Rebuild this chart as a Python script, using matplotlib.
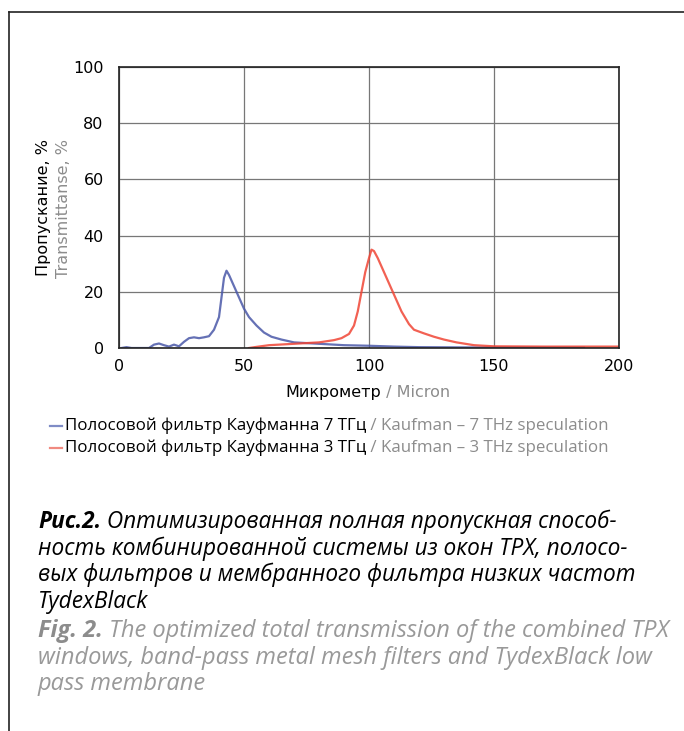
import matplotlib
matplotlib.use('Agg')
import matplotlib.pyplot as plt
from matplotlib.lines import Line2D

# --- data ---
blue_x = [1, 3, 5, 12, 14, 16, 18, 20, 22, 24, 26, 28, 30, 32, 34, 36, 38, 40, 41, 42, 43,
          44, 46, 48, 50, 52, 55, 58, 61, 65, 70, 80, 90, 100, 110, 120, 140, 160, 186]
blue_y = [0, 0.3, 0, 0, 1.2, 1.6, 1.0, 0.5, 1.2, 0.6, 2.2, 3.5, 3.8, 3.5, 3.8, 4.2, 6.5, 11, 18, 25, 27.5,
          26, 22, 18, 14, 11, 8, 5.5, 4, 3, 2, 1.5, 1.0, 0.8, 0.5, 0.3, 0.2, 0.2, 0.1]
red_x = [52, 55, 60, 70, 80, 86, 89, 92, 94, 95.5, 97, 98.5, 100, 101, 102, 103.5, 105, 107, 110,
         113, 116, 118, 122, 126, 130, 135, 142, 150, 170, 200]
red_y = [0, 0.4, 1.0, 1.5, 2.0, 2.8, 3.5, 5, 8, 13, 20, 27, 32, 35, 34.5, 32, 29, 25, 19,
         13, 8.5, 6.5, 5.2, 4.0, 3.0, 2.0, 1.0, 0.6, 0.5, 0.5]

xticks = [0, 50, 100, 150, 200]
yticks = [0, 20, 40, 60, 80, 100]

leg_ru = ['Полосовой фильтр Кауфманна 7 ТГц', 'Полосовой фильтр Кауфманна 3 ТГц']
leg_en = [' / Kaufman – 7 THz speculation', ' / Kaufman – 3 THz speculation']
cap_ru = ['Оптимизированная полная пропускная способ-',
          'ность комбинированной системы из окон TPX, полосо-',
          'вых фильтров и мембранного фильтра низких частот',
          'TydexBlack']
cap_en = ['The optimized total transmission of the combined TPX',
          'windows, band-pass metal mesh filters and TydexBlack low',
          'pass membrane']

BLUE = '#4a58a8'
RED = '#f04535'
GRAY = '#8c8c8c'
GRAY_EN = '#999999'
W, H = 684, 731

fig = plt.figure(figsize=(6.84, 7.31), dpi=100)
ax = fig.add_axes([119 / W, 1 - 348 / H, 500 / W, 281 / H])

ax.plot(blue_x, blue_y, color=BLUE, lw=1.6, alpha=0.85, solid_joinstyle='round')
ax.plot(red_x, red_y, color=RED, lw=1.6, alpha=0.85, solid_joinstyle='round')

ax.set_xlim(0, 200)
ax.set_ylim(0, 100)
ax.set_xticks(xticks)
ax.set_yticks(yticks)
ax.grid(True, color='#777777', lw=0.9)
ax.set_axisbelow(True)
ax.tick_params(length=0, labelsize=11.5)
ax.tick_params(axis='x', pad=8)
ax.tick_params(axis='y', pad=11)
for s in ax.spines.values():
    s.set_color('#222222')
    s.set_linewidth(1.2)

# axis titles
r = fig.canvas.get_renderer()
t = fig.text(285 / W, 1 - 392 / H, 'Микрометр', fontsize=11.5, va='center', ha='left')
bb = t.get_window_extent(r)
fig.text(bb.x1 / W, 1 - 392 / H, ' / Micron', fontsize=11.5, color=GRAY, va='center', ha='left')
fig.text(44 / W, 1 - 208 / H, 'Пропускание, %', fontsize=11.5, rotation=90, va='center', ha='center')
fig.text(64 / W, 1 - 208 / H, 'Transmittanse, %', fontsize=11.5, rotation=90, va='center', ha='center',
         color=GRAY)

# legend
leg_font = 'Open Sans'
for i, (ru, en, c) in enumerate(zip(leg_ru, leg_en, ['#7f8cc6', '#f08a80'])):
    y = 1 - (426 + 22 * i) / H
    fig.add_artist(Line2D([50 / W, 62 / W], [y, y], color=c, lw=1.6))
    t = fig.text(65 / W, y, ru, fontsize=12.2, family=leg_font, va='center', ha='left')
    bb = t.get_window_extent(r)
    fig.text(bb.x1 / W, y, en, fontsize=12.2, family=leg_font, va='center', ha='left', color=GRAY)

# caption
cap_font = 'Open Sans'
fs = 16.3
ys = [522, 548.5, 575, 601.5]
t = fig.text(38 / W, 1 - ys[0] / H, 'Рис.2.', fontsize=fs, family=cap_font, style='italic',
             weight='bold', va='center', ha='left')
bb = t.get_window_extent(r)
fig.text(bb.x1 / W, 1 - ys[0] / H, ' ' + cap_ru[0], fontsize=fs, family=cap_font, style='italic',
         va='center', ha='left')
for line, y in zip(cap_ru[1:], ys[1:]):
    fig.text(38 / W, 1 - y / H, line, fontsize=fs, family=cap_font, style='italic', va='center', ha='left')

fs_en = 17
ys = [631, 657.5, 684]
t = fig.text(38 / W, 1 - ys[0] / H, 'Fig. 2.', fontsize=fs_en, family=cap_font, style='italic',
             weight='bold', va='center', ha='left', color=GRAY)
bb = t.get_window_extent(r)
fig.text(bb.x1 / W, 1 - ys[0] / H, ' ' + cap_en[0], fontsize=fs_en, family=cap_font, style='italic',
         va='center', ha='left', color=GRAY_EN)
for line, y in zip(cap_en[1:], ys[1:]):
    fig.text(38 / W, 1 - y / H, line, fontsize=fs_en, family=cap_font, style='italic',
             va='center', ha='left', color=GRAY_EN)

# frame around the figure (left and top only)
fig.add_artist(Line2D([9 / W, 9 / W], [0, 1 - 12 / H], color='#222222', lw=1.2))
fig.add_artist(Line2D([9 / W, 1], [1 - 12 / H, 1 - 12 / H], color='#222222', lw=1.2))

fig.savefig('out.png', dpi=100)
